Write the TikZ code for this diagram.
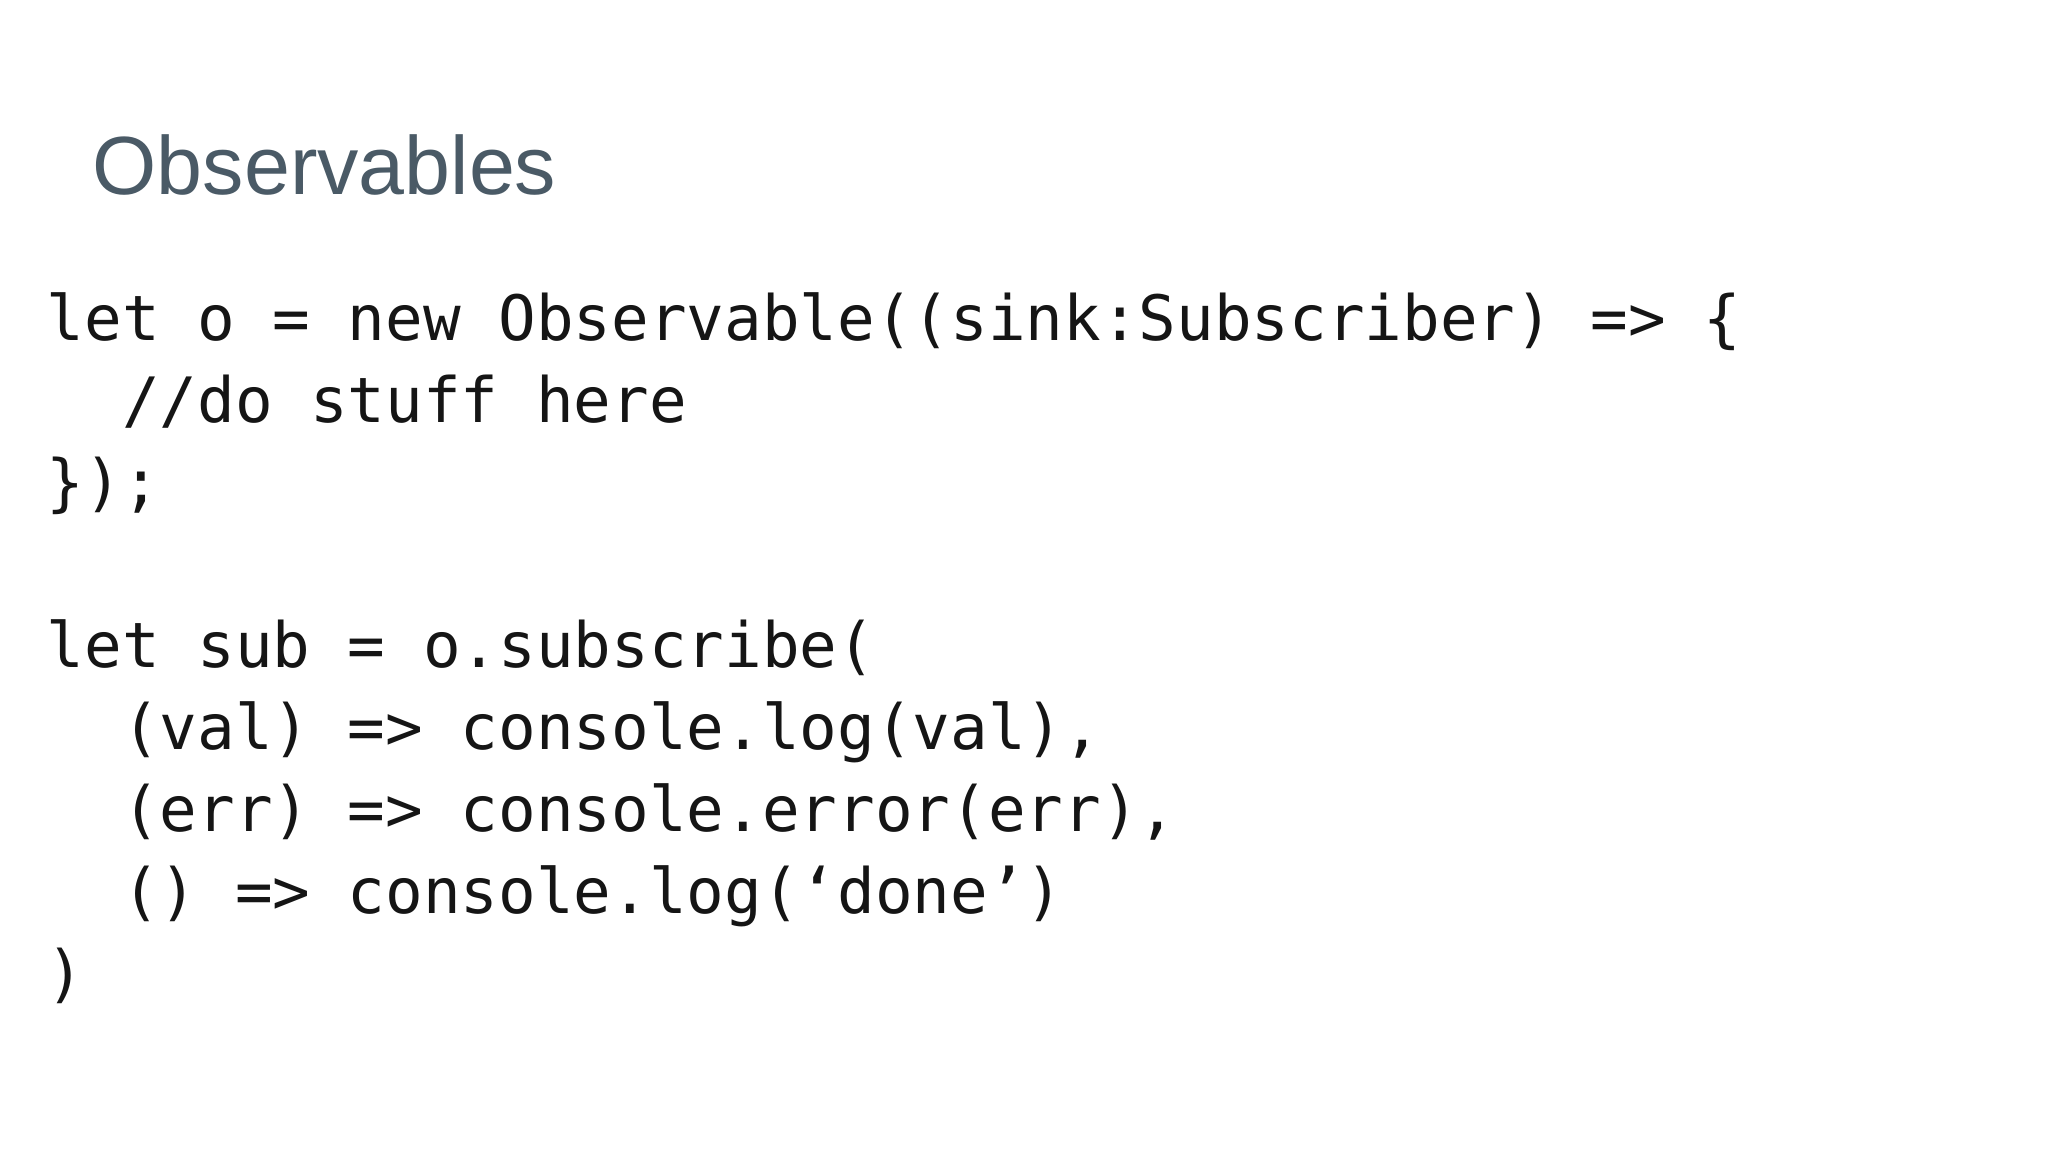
\documentclass[tikz,border=0pt]{standalone}
\usepackage{fontspec}
\setmainfont{Liberation Sans}
\newfontfamily\codefont{DejaVu Sans Mono}
\definecolor{titlec}{HTML}{4A5A66}
\definecolor{codec}{HTML}{151515}
\begin{document}
\begin{tikzpicture}[x=1cm,y=1cm,
  titlestyle/.style={anchor=base west,inner sep=0,text=titlec,font=\fontsize{23.5}{28}\selectfont},
  codeline/.style={anchor=base west,inner sep=0,text=codec,font=\codefont\fontsize{17.8}{22}\selectfont}]
\useasboundingbox[fill=white] (0,0) rectangle (20.48,11.52);
\node[titlestyle] (title) at (0.92,9.57) {Observables};
\node[codeline] (l1) at (0.46,11.52-3.405) {let o = new Observable((sink:Subscriber) => \{};
\node[codeline] (l2) at (0.46,11.52-4.223) {\ \ //do stuff here};
\node[codeline] (l3) at (0.46,11.52-5.042) {\});};
\node[codeline] (l5) at (0.46,11.52-6.679) {let sub = o.subscribe(};
\node[codeline] (l6) at (0.46,11.52-7.497) {\ \ (val) => console.log(val),};
\node[codeline] (l7) at (0.46,11.52-8.315) {\ \ (err) => console.error(err),};
\node[codeline] (l8) at (0.46,11.52-9.134) {\ \ () => console.log(‘done’)};
\node[codeline] (l9) at (0.46,11.52-9.952) {)};
\end{tikzpicture}
\end{document}
